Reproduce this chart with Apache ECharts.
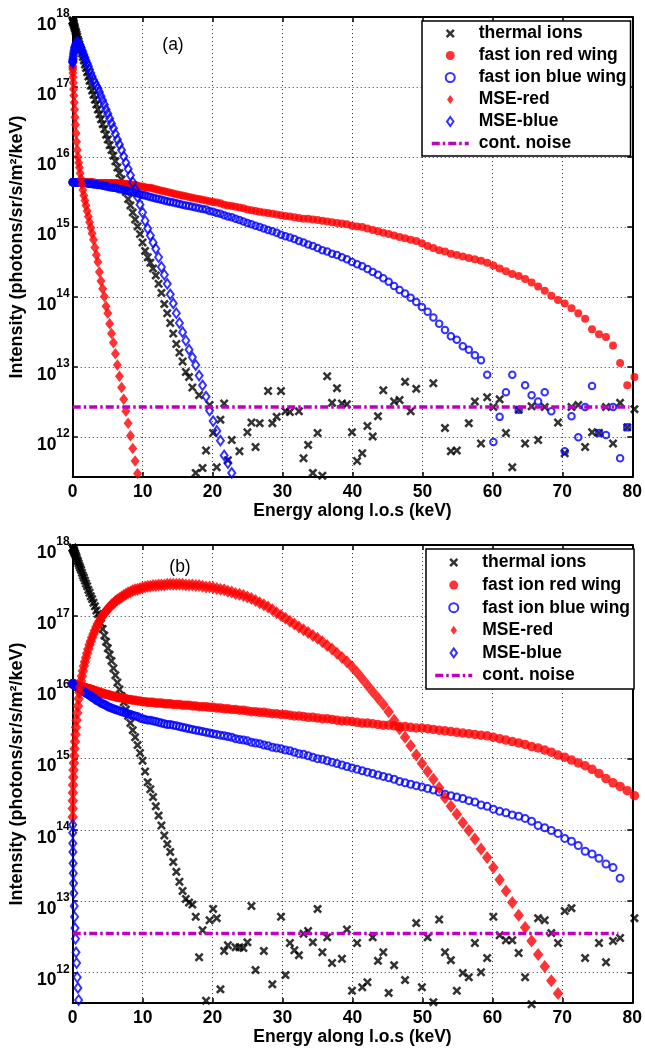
<!DOCTYPE html>
<html>
<head>
<meta charset="utf-8">
<script src="https://cdn.jsdelivr.net/npm/echarts@6/dist/echarts.min.js"></script>
<style>html,body{margin:0;padding:0;background:#fff}#c{width:645px;height:1051px}</style>
</head>
<body>
<div id="c"></div>
<script>
// Energy along line of sight (keV) at each sample
const energy = [
0,0.003,0.013,0.030,0.053,0.083,0.119,0.162,0.211,0.267,
0.330,0.399,0.475,0.558,0.647,0.743,0.845,0.954,1.069,1.191,
1.320,1.455,1.597,1.746,1.901,2.063,2.231,2.406,2.587,2.775,
2.970,3.171,3.379,3.594,3.815,4.043,4.277,4.518,4.765,5.019,
5.280,5.547,5.821,6.102,6.389,6.683,6.983,7.290,7.603,7.923,
8.250,8.583,8.923,9.270,9.623,9.983,10.349,10.722,11.101,11.487,
11.880,12.279,12.685,13.098,13.517,13.943,14.375,14.814,15.259,15.711,
16.170,16.635,17.107,17.586,18.071,18.563,19.061,19.566,20.077,20.595,
21.120,21.651,22.189,22.734,23.285,23.843,24.407,24.978,25.555,26.139,
26.730,27.327,27.931,28.542,29.159,29.783,30.413,31.050,31.693,32.343,
33.000,33.663,34.333,35.010,35.693,36.383,37.079,37.782,38.491,39.207,
39.930,40.659,41.395,42.138,42.887,43.643,44.405,45.174,45.949,46.731,
47.520,48.315,49.117,49.926,50.741,51.563,52.391,53.226,54.067,54.915,
55.770,56.631,57.499,58.374,59.255,60.143,61.037,61.938,62.845,63.759,
64.680,65.607,66.541,67.482,68.429,69.383,70.343,71.310,72.283,73.263,
74.250,75.243,76.243,77.250,78.263,79.283,80.309];

// ---- Panel (a): log10 of intensity (photons/sr/s/m^2/keV) ----
const logThermalA = [
17.95,17.95,17.94,17.94,17.93,17.92,17.91,17.89,17.87,17.85,
17.83,17.80,17.78,17.75,17.72,17.68,17.65,17.61,17.57,17.53,
17.48,17.43,17.38,17.32,17.27,17.21,17.15,17.09,17.02,16.95,
16.89,16.82,16.75,16.68,16.61,16.54,16.47,16.40,16.32,16.25,
16.17,16.10,16.02,15.94,15.85,15.77,15.68,15.59,15.50,15.40,
15.31,15.21,15.11,15.01,14.90,14.78,14.66,14.57,14.49,14.41,
14.31,14.19,14.06,13.90,13.77,13.63,13.48,13.33,13.21,13.08,
12.93,12.86,12.71,11.49,12.60,11.56,11.81,12.46,12.06,11.57,
12.25,12.48,11.67,11.96,null,11.80,null,12.07,12.21,11.86,
12.20,null,12.66,12.20,12.29,12.66,12.37,12.36,null,12.37,
11.70,11.89,11.49,12.06,11.45,12.87,12.49,12.70,12.48,12.47,
12.07,11.66,11.77,12.16,12.01,12.30,12.67,null,12.51,12.53,
12.79,12.37,12.69,null,null,12.77,null,12.13,11.80,11.81,
null,12.20,12.51,11.91,12.57,12.43,12.54,12.06,11.57,12.39,
11.91,12.44,11.96,12.43,null,12.21,11.77,12.43,12.46,11.86,
12.07,12.06,12.43,11.91,12.49,12.14,12.40];

const logRedWingA = [
15.64,15.64,15.64,15.64,15.64,15.64,15.64,15.64,15.64,15.64,
15.64,15.64,15.64,15.64,15.64,15.64,15.64,15.64,15.64,15.64,
15.64,15.64,15.64,15.64,15.64,15.64,15.64,15.64,15.64,15.64,
15.64,15.63,15.63,15.63,15.63,15.63,15.63,15.63,15.63,15.63,
15.63,15.63,15.63,15.63,15.63,15.62,15.62,15.62,15.62,15.61,
15.61,15.60,15.60,15.59,15.58,15.58,15.57,15.56,15.56,15.55,
15.54,15.53,15.52,15.51,15.50,15.49,15.48,15.47,15.46,15.45,
15.44,15.43,15.42,15.41,15.40,15.39,15.38,15.37,15.36,15.35,
15.34,15.32,15.31,15.30,15.29,15.28,15.27,15.25,15.24,15.23,
15.22,15.21,15.20,15.19,15.18,15.17,15.16,15.15,15.14,15.13,
15.12,15.12,15.11,15.10,15.09,15.08,15.07,15.06,15.05,15.04,
15.02,15.01,15.00,14.98,14.96,14.94,14.92,14.90,14.88,14.86,
14.84,14.82,14.80,14.77,14.73,14.70,14.67,14.65,14.62,14.60,
14.58,14.56,14.54,14.52,14.49,14.45,14.41,14.37,14.33,14.30,
14.26,14.21,14.15,14.09,14.02,13.96,13.91,13.84,13.77,13.69,
13.54,13.47,13.43,13.31,13.06,12.74,12.86];

const logBlueWingA = [
15.64,15.64,15.64,15.64,15.64,15.64,15.64,15.64,15.64,15.64,
15.64,15.64,15.64,15.64,15.64,15.64,15.64,15.64,15.64,15.64,
15.64,15.64,15.63,15.63,15.63,15.63,15.62,15.62,15.62,15.62,
15.61,15.61,15.61,15.60,15.60,15.60,15.59,15.59,15.58,15.58,
15.57,15.57,15.56,15.56,15.55,15.54,15.54,15.53,15.52,15.52,
15.51,15.50,15.49,15.48,15.47,15.46,15.45,15.44,15.43,15.42,
15.41,15.40,15.39,15.38,15.37,15.36,15.35,15.34,15.33,15.32,
15.31,15.30,15.29,15.28,15.27,15.26,15.25,15.23,15.22,15.20,
15.19,15.17,15.15,15.14,15.12,15.10,15.08,15.06,15.04,15.02,
15.00,14.98,14.96,14.94,14.92,14.89,14.87,14.85,14.83,14.80,
14.78,14.75,14.73,14.70,14.67,14.65,14.62,14.60,14.57,14.54,
14.50,14.47,14.44,14.40,14.36,14.32,14.27,14.22,14.16,14.10,
14.05,13.99,13.93,13.86,13.79,13.71,13.62,13.53,13.44,13.39,
13.30,13.25,13.17,13.10,12.89,11.93,12.29,12.64,12.89,12.39,
12.74,12.60,12.51,12.64,12.37,null,11.80,12.30,12.00,12.43,
12.73,12.06,12.03,12.43,11.70,12.14,null];

const logMseRedA = [
17.30,17.28,17.25,17.20,17.14,17.06,16.97,16.88,16.78,16.68,
16.57,16.46,16.34,16.22,16.10,16.00,15.92,15.85,15.77,15.69,
15.61,15.53,15.45,15.38,15.31,15.23,15.15,15.07,14.99,14.91,
14.82,14.71,14.60,14.50,14.36,14.23,14.12,14.01,13.87,13.77,
13.62,13.48,13.35,13.19,13.03,12.87,12.71,12.54,12.37,12.20,
12.02,11.84,11.66,11.48];

const logMseBlueA = [
17.35,17.36,17.37,17.39,17.41,17.44,17.47,17.50,17.53,17.56,
17.58,17.60,17.62,17.63,17.64,17.64,17.63,17.61,17.59,17.56,
17.53,17.50,17.46,17.42,17.38,17.34,17.30,17.25,17.20,17.15,
17.10,17.06,17.02,16.98,16.93,16.87,16.81,16.75,16.68,16.62,
16.55,16.48,16.41,16.33,16.25,16.18,16.10,16.01,15.92,15.83,
15.74,15.64,15.54,15.43,15.32,15.21,15.09,14.98,14.88,14.78,
14.69,14.57,14.43,14.32,14.19,14.04,13.91,13.77,13.63,13.50,
13.38,13.25,13.14,13.03,12.88,12.74,12.58,12.38,12.23,12.09,
11.95,11.74,11.63,11.49];

const noiseEnergyA = [0, 79.6];
const noiseLevelA = 2.7e12;

// ---- Panel (b): log10 of intensity ----
const logThermalB = [
17.96,17.96,17.96,17.95,17.95,17.94,17.93,17.92,17.91,17.89,
17.88,17.86,17.84,17.82,17.79,17.77,17.74,17.71,17.68,17.65,
17.61,17.57,17.54,17.50,17.46,17.42,17.37,17.33,17.28,17.24,
17.19,17.14,17.08,17.03,16.97,16.90,16.82,16.73,16.64,16.55,
16.46,16.37,16.27,16.17,16.07,15.97,15.88,15.79,15.69,15.60,
15.50,15.40,15.30,15.19,15.08,14.97,14.82,14.67,14.57,14.46,
14.33,14.20,14.06,13.92,13.80,13.69,13.55,13.41,13.27,13.14,
13.03,12.98,12.95,12.78,12.21,12.59,11.60,12.73,12.89,12.76,
11.76,12.30,12.38,null,12.35,12.35,12.34,12.42,12.93,12.03,
null,12.30,null,11.83,null,12.78,11.96,12.41,12.31,12.24,
12.54,12.58,12.42,12.89,12.28,12.49,12.13,null,12.19,12.60,
11.74,12.41,11.79,11.86,12.49,12.16,12.28,11.71,12.10,null,
11.89,null,12.69,11.79,12.49,11.58,12.74,12.28,12.17,11.74,
11.99,11.93,12.41,12.00,12.20,12.78,12.52,12.45,12.45,12.27,
11.93,11.55,12.76,12.73,12.55,12.41,12.86,12.90,null,12.20,
null,12.41,12.14,12.44,12.48,null,12.76];

const logRedWingB = [
16.05,16.05,16.05,16.05,16.05,16.05,16.05,16.05,16.04,16.04,
16.04,16.04,16.03,16.03,16.03,16.03,16.02,16.02,16.02,16.01,
16.01,16.01,16.00,16.00,15.99,15.99,15.98,15.98,15.97,15.97,
15.96,15.95,15.95,15.94,15.93,15.92,15.92,15.91,15.90,15.90,
15.89,15.88,15.88,15.87,15.86,15.86,15.85,15.85,15.84,15.83,
15.83,15.82,15.82,15.81,15.81,15.80,15.80,15.79,15.79,15.79,
15.78,15.78,15.78,15.77,15.77,15.77,15.76,15.76,15.76,15.75,
15.75,15.75,15.74,15.74,15.73,15.73,15.73,15.72,15.72,15.71,
15.71,15.70,15.70,15.69,15.69,15.68,15.68,15.67,15.66,15.66,
15.65,15.65,15.64,15.63,15.63,15.62,15.62,15.61,15.60,15.60,
15.59,15.58,15.58,15.57,15.56,15.56,15.55,15.54,15.53,15.53,
15.52,15.51,15.50,15.50,15.49,15.48,15.47,15.47,15.46,15.45,
15.45,15.44,15.43,15.43,15.42,15.41,15.40,15.39,15.38,15.37,
15.36,15.35,15.34,15.33,15.32,15.30,15.28,15.26,15.24,15.22,
15.20,15.17,15.15,15.12,15.09,15.05,15.02,14.98,14.94,14.90,
14.85,14.79,14.72,14.66,14.61,14.55,14.48];

const logBlueWingB = [
16.05,16.05,16.05,16.05,16.05,16.04,16.04,16.04,16.03,16.03,
16.03,16.02,16.02,16.01,16.00,16.00,15.99,15.98,15.97,15.97,
15.96,15.95,15.94,15.93,15.92,15.91,15.90,15.89,15.88,15.86,
15.85,15.84,15.82,15.81,15.80,15.78,15.77,15.76,15.75,15.73,
15.72,15.71,15.70,15.69,15.68,15.67,15.66,15.65,15.64,15.63,
15.62,15.61,15.60,15.59,15.57,15.56,15.55,15.54,15.54,15.53,
15.52,15.51,15.50,15.49,15.48,15.48,15.47,15.46,15.45,15.44,
15.43,15.42,15.41,15.40,15.39,15.38,15.37,15.36,15.35,15.34,
15.33,15.32,15.31,15.30,15.28,15.27,15.26,15.25,15.23,15.22,
15.21,15.19,15.18,15.16,15.15,15.14,15.12,15.11,15.09,15.07,
15.06,15.04,15.02,15.00,14.99,14.97,14.95,14.93,14.91,14.89,
14.87,14.85,14.83,14.81,14.79,14.77,14.75,14.73,14.71,14.68,
14.66,14.64,14.62,14.60,14.58,14.56,14.53,14.50,14.48,14.46,
14.44,14.41,14.39,14.35,14.33,14.29,14.26,14.24,14.21,14.19,
14.16,14.12,14.06,14.03,13.99,13.95,13.88,13.84,13.78,13.70,
13.66,13.60,13.52,13.47,13.32];

const logMseRedB = [
14.18,14.30,14.41,14.52,14.63,14.74,14.84,14.94,15.04,15.14,
15.24,15.34,15.44,15.54,15.64,15.74,15.84,15.93,16.01,16.09,
16.16,16.23,16.30,16.36,16.42,16.48,16.54,16.60,16.65,16.70,
16.75,16.80,16.85,16.89,16.93,16.97,17.01,17.04,17.07,17.10,
17.13,17.16,17.18,17.21,17.23,17.25,17.27,17.29,17.31,17.33,
17.34,17.36,17.37,17.38,17.39,17.40,17.41,17.42,17.42,17.43,
17.43,17.44,17.44,17.44,17.45,17.45,17.45,17.45,17.45,17.45,
17.44,17.44,17.44,17.43,17.43,17.42,17.41,17.41,17.40,17.39,
17.38,17.37,17.35,17.34,17.32,17.31,17.29,17.27,17.25,17.22,
17.19,17.16,17.13,17.09,17.05,17.01,16.97,16.93,16.89,16.85,
16.81,16.77,16.73,16.69,16.64,16.59,16.54,16.48,16.42,16.36,
16.29,16.21,16.12,16.03,15.94,15.85,15.76,15.66,15.54,15.42,
15.30,15.18,15.05,14.93,14.82,14.71,14.59,14.45,14.33,14.22,
14.10,13.99,13.87,13.73,13.61,13.47,13.30,13.14,12.98,12.80,
12.63,12.44,12.25,12.08,11.88,11.70];

const logMseBlueB = [
14.07,13.96,13.81,13.69,13.53,13.39,13.25,13.11,12.93,12.78,
12.62,12.47,12.28,12.13,11.93,11.78,11.61];

const noiseEnergyB = [0, 78.0];
const noiseLevelB = 3.5e12;

const seriesNames = ['thermal ions','fast ion red wing','fast ion blue wing','MSE-red','MSE-blue','cont. noise'];
const xTickStep = 10;

// ---------------------------------------------------------------
const FONT = '"Liberation Sans", Arial, Helvetica, sans-serif';
const X_PATH = 'path://M2,0L5,3L8,0L10,2L7,5L10,8L8,10L5,7L2,10L0,8L3,5L0,2Z';
const DIAMOND_PATH = 'path://M5,0L10,7L5,14L0,7Z';

function pts(logArr) {
  const out = [];
  logArr.forEach((L, i) => { if (L !== null && L !== undefined) out.push([energy[i], Math.pow(10, L)]); });
  return out;
}

function yLabel(v) {
  const e = Math.log10(v);
  const r = Math.round(e);
  if (Math.abs(e - r) > 0.01) return '';
  return '{b|10}{s|' + r + '}';
}

function xAxes(g, nameGap) {
  return [
    { type: 'value', gridIndex: g, min: 0, max: 80, interval: xTickStep, position: 'bottom',
      axisLine: { show: true, onZero: false, lineStyle: { color: '#000', width: 2 } },
      axisTick: { show: true, inside: true, length: 5, lineStyle: { color: '#000', width: 1.5 } },
      axisLabel: { color: '#000', fontFamily: FONT, fontSize: 17.5, fontWeight: 'bold', margin: 6 },
      splitLine: { show: true, lineStyle: { color: '#333', type: [1, 3], width: 1 } },
      name: 'Energy along l.o.s (keV)', nameLocation: 'middle', nameGap: nameGap,
      nameTextStyle: { color: '#000', fontFamily: FONT, fontSize: 17.5, fontWeight: 'bold' } },
    { type: 'value', gridIndex: g, min: 0, max: 80, interval: xTickStep, position: 'top',
      axisLine: { show: true, onZero: false, lineStyle: { color: '#000', width: 2 } },
      axisTick: { show: true, inside: true, length: 5, lineStyle: { color: '#000', width: 1.5 } },
      axisLabel: { show: false }, splitLine: { show: false } }
  ];
}

function yAxes(g, min) {
  return [
    { type: 'log', logBase: 10, gridIndex: g, min: min, max: 1e18, position: 'left',
      axisLine: { show: true, onZero: false, lineStyle: { color: '#000', width: 2 } },
      axisTick: { show: true, inside: true, length: 5, lineStyle: { color: '#000', width: 1.5 } },
      axisLabel: { formatter: yLabel, margin: 3, padding: [8, 0, 0, 0],
        rich: {
          b: { fontFamily: FONT, fontSize: 17.5, fontWeight: 'bold', color: '#000', verticalAlign: 'bottom', lineHeight: 26 },
          s: { fontFamily: FONT, fontSize: 12, fontWeight: 'bold', color: '#000', verticalAlign: 'top', lineHeight: 26 }
        } },
      splitLine: { show: true, lineStyle: { color: '#333', type: [1, 3], width: 1 } },
      name: 'Intensity (photons/sr/s/m²/keV)', nameLocation: 'middle', nameGap: 41,
      nameTextStyle: { color: '#000', fontFamily: FONT, fontSize: 18, fontWeight: 'bold' } },
    { type: 'log', logBase: 10, gridIndex: g, min: min, max: 1e18, position: 'right',
      axisLine: { show: true, onZero: false, lineStyle: { color: '#000', width: 2 } },
      axisTick: { show: true, inside: true, length: 5, lineStyle: { color: '#000', width: 1.5 } },
      axisLabel: { show: false }, splitLine: { show: false } }
  ];
}

function panelSeries(ax, d, s) {
  const common = { type: 'scatter', xAxisIndex: ax, yAxisIndex: ax, clip: false, emphasis: { disabled: true } };
  return [
    Object.assign({}, common, { name: seriesNames[0], data: pts(d.thermal), symbol: X_PATH, symbolSize: s.x,
      itemStyle: { color: '#000' } }),
    Object.assign({}, common, { name: seriesNames[1], data: pts(d.redWing), symbol: 'circle', symbolSize: s.rc,
      itemStyle: { color: '#ff0000' } }),
    Object.assign({}, common, { name: seriesNames[2], data: pts(d.blueWing), symbol: 'circle', symbolSize: s.bc,
      itemStyle: { color: 'rgba(255,255,255,0)', borderColor: '#0000ff', borderWidth: 2 } }),
    Object.assign({}, common, { name: seriesNames[3], data: pts(d.mseRed), symbol: 'diamond', symbolSize: s.rd,
      itemStyle: { color: '#ff0000' } }),
    Object.assign({}, common, { name: seriesNames[4], data: pts(d.mseBlue), symbol: 'diamond', symbolSize: s.bd,
      itemStyle: { color: 'rgba(255,255,255,0)', borderColor: '#0000ff', borderWidth: 2 } }),
    { type: 'line', name: seriesNames[5], xAxisIndex: ax, yAxisIndex: ax, symbol: 'none', showSymbol: false,
      data: d.noiseE.map(e => [e, d.noise]), emphasis: { disabled: true },
      lineStyle: { color: '#bf00bf', width: 3.5, type: [8, 3, 2.5, 3] },
      itemStyle: { color: 'rgba(0,0,0,0)', borderWidth: 0 } }
  ];
}

function legendFor(left, top, pad, gap) {
  return {
    data: [
      { name: seriesNames[0] },
      { name: seriesNames[1] },
      { name: seriesNames[2] },
      { name: seriesNames[3], icon: DIAMOND_PATH },
      { name: seriesNames[4], icon: DIAMOND_PATH },
      { name: seriesNames[5] }
    ],
    left: left, top: top, orient: 'vertical', padding: pad,
    itemWidth: 37, itemHeight: 9, itemGap: gap, selectedMode: false, symbolKeepAspect: true,
    backgroundColor: '#fff', borderColor: '#000', borderWidth: 1.5, borderRadius: 0,
    lineStyle: { width: 3.5 },
    textStyle: { fontFamily: FONT, fontSize: 17.5, fontWeight: 'bold', color: '#000', lineHeight: 18, padding: [0, 0, 0, 5] }
  };
}

const chart = echarts.init(document.getElementById('c'), null, { renderer: 'canvas' });
chart.setOption({
  animation: false,
  backgroundColor: '#fff',
  grid: [
    { left: 71, right: 12, top: 17, height: 460, containLabel: false },
    { left: 72, right: 9, top: 545, height: 458, containLabel: false }
  ],
  xAxis: [].concat(xAxes(0, 23), xAxes(1, 25)),
  yAxis: [].concat(yAxes(0, 2.7e11), yAxes(1, 3.7e11)),
  legend: [
    legendFor(422, 21, [3.5, 4, 3.5, 8], 4),
    legendFor(426, 549, [4.5, 4, 4.5, 7.5], 4.6)
  ],
  graphic: [
    { type: 'text', x: 173, y: 45, style: { text: '(a)', fontFamily: FONT, fontSize: 17.5, fill: '#000', align: 'center', verticalAlign: 'middle' } },
    { type: 'text', x: 180, y: 567, style: { text: '(b)', fontFamily: FONT, fontSize: 17.5, fill: '#000', align: 'center', verticalAlign: 'middle' } }
  ],
  series: [].concat(
    panelSeries(0, { thermal: logThermalA, redWing: logRedWingA, blueWing: logBlueWingA, mseRed: logMseRedA, mseBlue: logMseBlueA, noiseE: noiseEnergyA, noise: noiseLevelA },
      { x: 9, rc: 8, bc: 6.5, rd: [9, 11.5], bd: [7, 9.5] }),
    panelSeries(2, { thermal: logThermalB, redWing: logRedWingB, blueWing: logBlueWingB, mseRed: logMseRedB, mseBlue: logMseBlueB, noiseE: noiseEnergyB, noise: noiseLevelB },
      { x: 9, rc: 9.5, bc: 7, rd: [10.5, 13], bd: [7, 9.5] })
  )
});
</script>
</body>
</html>
